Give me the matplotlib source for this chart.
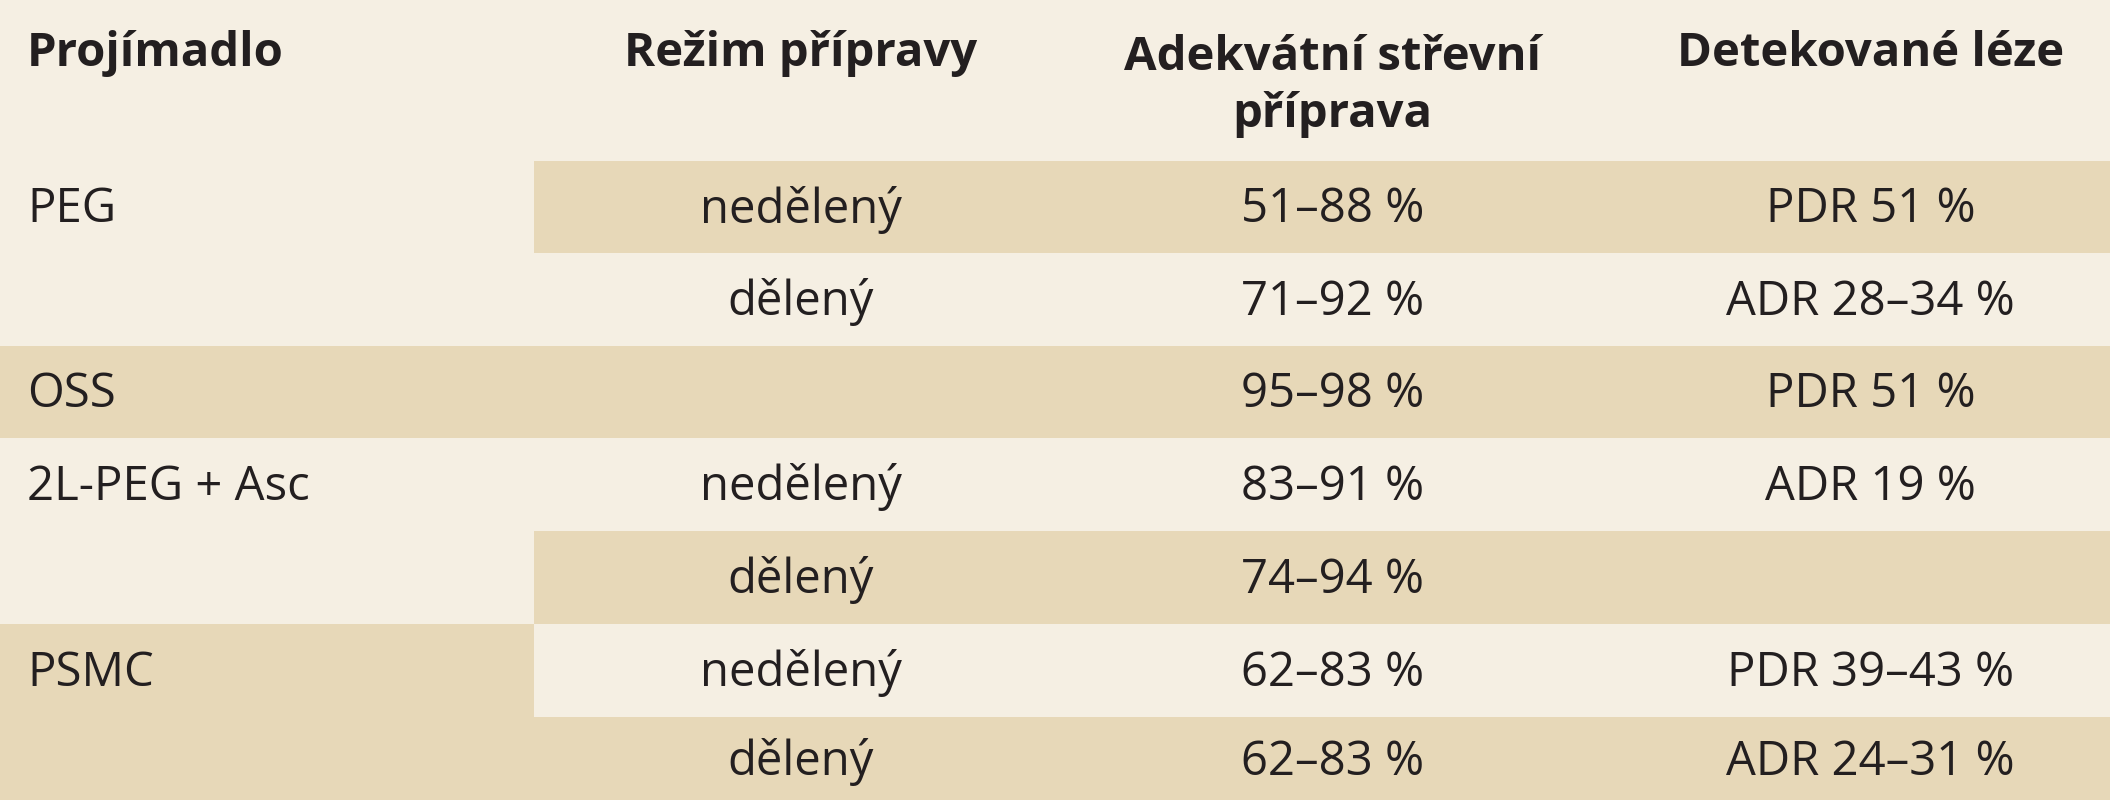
import matplotlib
matplotlib.use("Agg")
import matplotlib.pyplot as plt
from matplotlib.patches import Rectangle

headers = ["Projímadlo", "Režim přípravy", "Adekvátní střevní\npříprava", "Detekované léze"]
laxative = ["PEG", "", "OSS", "2L-PEG + Asc", "", "PSMC", ""]
regime = ["nedělený", "dělený", "", "nedělený", "dělený", "nedělený", "dělený"]
adequate = ["51–88 %", "71–92 %", "95–98 %", "83–91 %", "74–94 %", "62–83 %", "62–83 %"]
lesions = ["PDR 51 %", "ADR 28–34 %", "PDR 51 %", "ADR 19 %", "", "PDR 39–43 %", "ADR 24–31 %"]

LIGHT = "#F5EFE3"
DARK = "#E7D8B8"
TXT = "#231F20"

W, H = 1568, 595
fig = plt.figure(figsize=(21.1, 8), dpi=100)
fig.patch.set_facecolor(LIGHT)
ax = fig.add_axes([0, 0, 1, 1])
ax.set_xlim(0, W); ax.set_ylim(H, 0); ax.axis("off")
ax.set_facecolor(LIGHT)

row_top = [120, 188, 257, 326, 395, 464, 533]
row_bot = row_top[1:] + [H]
right_shade = [True, False, True, False, True, False, True]
split = 397
for i, s in enumerate(right_shade):
    if s:
        ax.add_patch(Rectangle((split, row_top[i]), W - split, row_bot[i] - row_top[i], color=DARK, lw=0))
left_cells = [(120, 257, False), (257, 326, True), (326, 464, False), (464, H, True)]
for t, b, s in left_cells:
    if s:
        ax.add_patch(Rectangle((0, t), split, b - t, color=DARK, lw=0))

fs = 34
font = "Open Sans"
cx = [20, 595, 990, 1390]
ax.text(cx[0], 40, headers[0], ha="left", va="center", fontsize=fs, fontweight="bold", color=TXT, family=font)
ax.text(cx[1], 40, headers[1], ha="center", va="center", fontsize=fs, fontweight="bold", color=TXT, family=font)
ax.text(cx[2], 64, headers[2], ha="center", va="center", fontsize=fs, fontweight="bold", color=TXT, family=font, linespacing=1.3)
ax.text(cx[3], 40, headers[3], ha="center", va="center", fontsize=fs, fontweight="bold", color=TXT, family=font)

for i in range(len(regime)):
    y = (row_top[i] + row_bot[i]) / 2 + (2 if i < 6 else 3)
    ax.text(cx[0], y, laxative[i], ha="left", va="center", fontsize=fs, color=TXT, family=font)
    ax.text(cx[1], y, regime[i], ha="center", va="center", fontsize=fs, color=TXT, family=font)
    ax.text(cx[2], y, adequate[i], ha="center", va="center", fontsize=fs, color=TXT, family=font)
    ax.text(cx[3], y, lesions[i], ha="center", va="center", fontsize=fs, color=TXT, family=font)

fig.savefig("out.png", dpi=100, facecolor=LIGHT)
